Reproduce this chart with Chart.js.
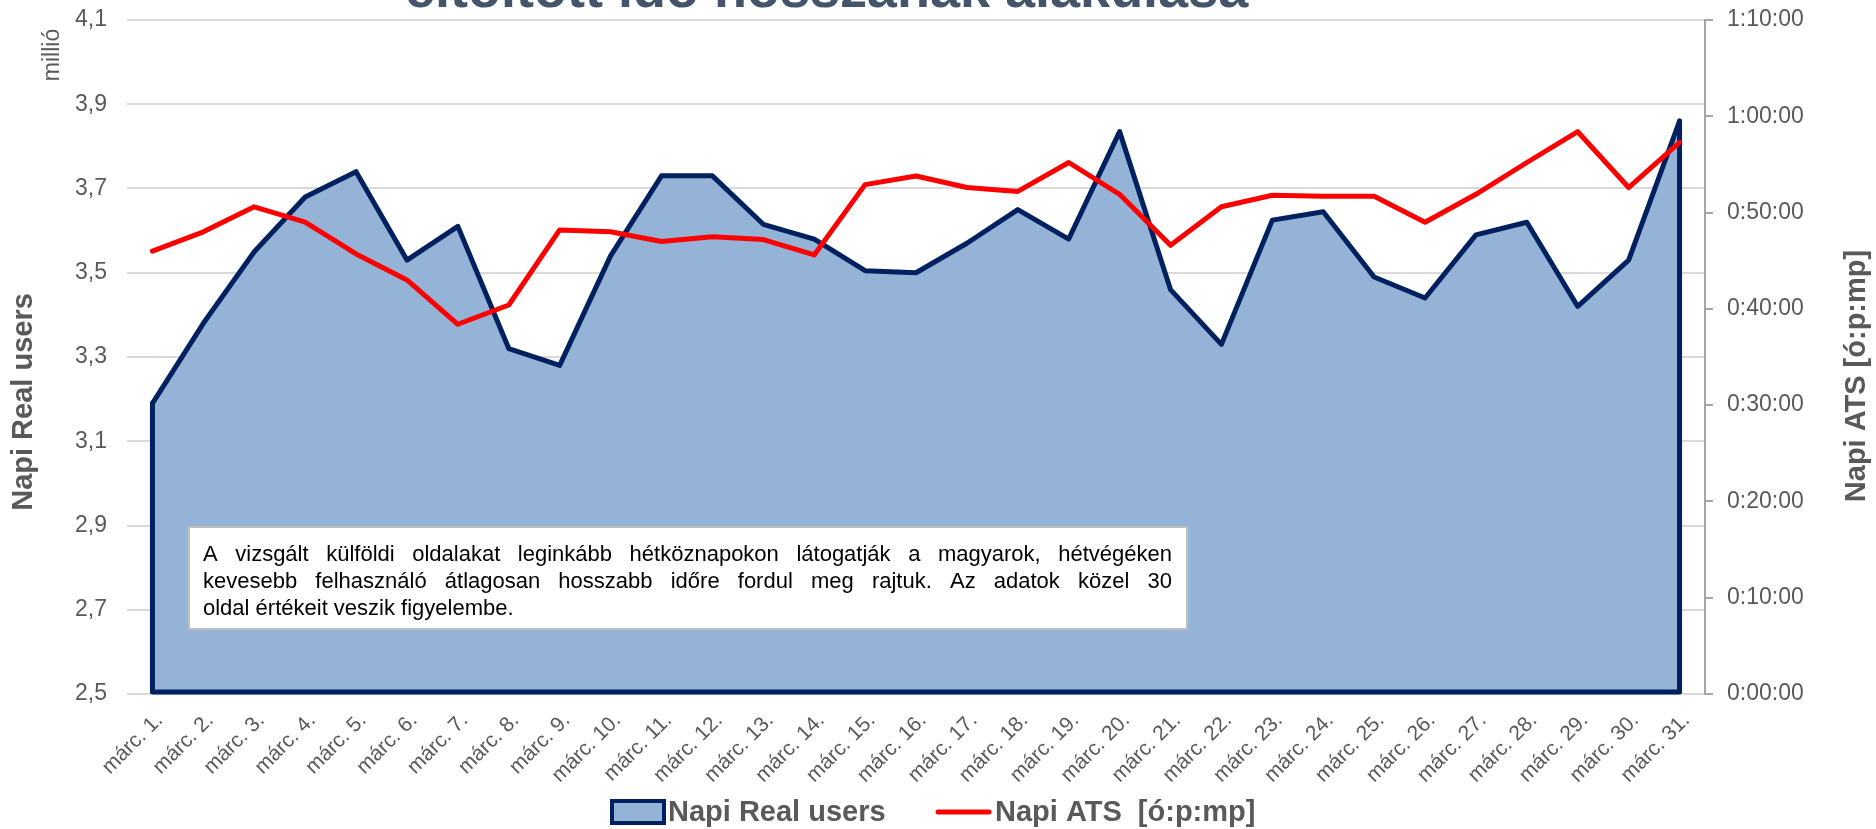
<!DOCTYPE html>
<html>
<head>
<meta charset="utf-8">
<script src="https://cdn.jsdelivr.net/npm/chart.js@4/dist/chart.umd.min.js"></script>
<style>
html,body{margin:0;padding:0;background:#fff;}
#c{display:block;}
</style>
</head>
<body>
<canvas id="c" width="1876" height="829"></canvas>
<script>
// ---- data ----
const categories = ['márc. 1.','márc. 2.','márc. 3.','márc. 4.','márc. 5.','márc. 6.','márc. 7.','márc. 8.','márc. 9.','márc. 10.',
  'márc. 11.','márc. 12.','márc. 13.','márc. 14.','márc. 15.','márc. 16.','márc. 17.','márc. 18.','márc. 19.','márc. 20.',
  'márc. 21.','márc. 22.','márc. 23.','márc. 24.','márc. 25.','márc. 26.','márc. 27.','márc. 28.','márc. 29.','márc. 30.','márc. 31.'];
// Napi Real users (millió)
const realUsers = [3.19,3.38,3.55,3.68,3.74,3.53,3.61,3.32,3.28,3.54,
  3.73,3.73,3.615,3.58,3.505,3.50,3.57,3.65,3.58,3.835,
  3.46,3.33,3.625,3.645,3.49,3.44,3.59,3.62,3.42,3.53,3.86];
// Napi ATS (másodperc)
const atsSeconds = [2760,2880,3036,2940,2742,2580,2304,2424,2892,2880,
  2820,2850,2832,2736,3174,3228,3156,3132,3312,3114,
  2796,3036,3108,3102,3102,2940,3114,3312,3504,3156,3438];
const leftTicks = {min:2.5, max:4.1, step:0.2};
const rightTicks = {min:0, max:4200, step:600};
const seriesNames = ['Napi Real users','Napi ATS  [ó:p:mp]'];
const axisTitles = {left:'Napi Real users', right:'Napi ATS [ó:p:mp]', unit:'millió'};
const titleText = 'eltöltött idő hosszának alakulása';
const noteLines = [
  'A vizsgált külföldi oldalakat leginkább hétköznapokon látogatják a magyarok, hétvégéken',
  'kevesebb felhasználó átlagosan hosszabb időre fordul meg rajtuk. Az adatok közel 30',
  'oldal értékeit veszik figyelembe.'
];

const FONT = '"Liberation Sans", Arial, sans-serif';
const GRAY = '#595959';
const NAVY = '#002060';
const FILL = '#95b3d7';
const RED = '#ff0000';

function fmtHMS(s){
  s = Math.round(s);
  const h = Math.floor(s/3600), m = Math.floor((s%3600)/60), sec = s%60;
  return h + ':' + String(m).padStart(2,'0') + ':' + String(sec).padStart(2,'0');
}

const decorPlugin = {
  id:'decor',
  afterDatasetDraw(chart, args){
    if (args.meta.yAxisID !== 'y') return;
    const pts = args.meta.data;
    const ys = chart.scales.y;
    const bottom = ys.getPixelForValue(leftTicks.min);
    const ctx = chart.ctx;
    ctx.save();
    ctx.strokeStyle = NAVY;
    ctx.lineWidth = 5;
    ctx.lineJoin = 'round';
    ctx.lineCap = 'round';
    ctx.beginPath();
    ctx.moveTo(pts[0].x, pts[0].y);
    ctx.lineTo(pts[0].x, bottom - 2);
    ctx.lineTo(pts[pts.length-1].x, bottom - 2);
    ctx.lineTo(pts[pts.length-1].x, pts[pts.length-1].y);
    ctx.stroke();
    ctx.restore();
  },
  afterDatasetsDraw(chart){
    const ctx = chart.ctx;
    // annotation box
    const bx = 189, by = 527, bw = 998, bh = 102;
    ctx.save();
    ctx.fillStyle = '#ffffff';
    ctx.fillRect(bx, by, bw, bh);
    ctx.strokeStyle = '#bfbfbf';
    ctx.lineWidth = 2;
    ctx.strokeRect(bx, by, bw, bh);
    ctx.fillStyle = '#000000';
    ctx.font = '22px ' + FONT;
    ctx.textBaseline = 'alphabetic';
    ctx.textAlign = 'left';
    const left = 203, right = 1172;
    const baselines = [561, 588, 615];
    noteLines.forEach((line, i) => {
      if (i < noteLines.length - 1) {
        const words = line.split(' ');
        const total = words.reduce((a,w)=>a+ctx.measureText(w).width,0);
        const gap = (right-left-total)/(words.length-1);
        let x = left;
        words.forEach(w => { ctx.fillText(w, x, baselines[i]); x += ctx.measureText(w).width + gap; });
      } else {
        ctx.fillText(line, left, baselines[i]);
      }
    });
    ctx.restore();
  },
  afterDraw(chart){
    const ctx = chart.ctx;
    ctx.save();
    // title (cut at top)
    ctx.fillStyle = '#44546a';
    ctx.font = 'bold 54px ' + FONT;
    ctx.textBaseline = 'alphabetic';
    ctx.textAlign = 'left';
    ctx.fillText(titleText, 405, 7);
    // axis titles
    ctx.fillStyle = GRAY;
    ctx.font = 'bold 29px ' + FONT;
    ctx.textAlign = 'center';
    ctx.textBaseline = 'middle';
    ctx.save(); ctx.translate(24, 402); ctx.rotate(-Math.PI/2); ctx.fillText(axisTitles.left, 0, 0); ctx.restore();
    ctx.save(); ctx.translate(1857, 376); ctx.rotate(-Math.PI/2); ctx.fillText(axisTitles.right, 0, 0); ctx.restore();
    ctx.font = '23px ' + FONT;
    ctx.save(); ctx.translate(53, 55); ctx.rotate(-Math.PI/2); ctx.fillText(axisTitles.unit, 0, 0); ctx.restore();
    // legend
    const ly = 812;
    ctx.fillStyle = FILL;
    ctx.fillRect(612, 801, 52, 22);
    ctx.strokeStyle = NAVY; ctx.lineWidth = 4;
    ctx.strokeRect(612, 801, 52, 22);
    ctx.fillStyle = GRAY;
    ctx.font = 'bold 29px ' + FONT;
    ctx.textAlign = 'left';
    ctx.fillText(seriesNames[0], 668, ly+1);
    ctx.strokeStyle = RED; ctx.lineWidth = 5; ctx.lineCap = 'round';
    ctx.beginPath(); ctx.moveTo(938, ly); ctx.lineTo(989, ly); ctx.stroke();
    ctx.fillText(seriesNames[1], 995, ly+1);
    ctx.restore();
  }
};

new Chart(document.getElementById('c'), {
  type:'line',
  data:{
    labels: categories,
    datasets:[
      {label:seriesNames[1], data:atsSeconds, yAxisID:'y2', borderColor:RED, borderWidth:5,
       pointRadius:0, tension:0, fill:false, order:0, borderJoinStyle:'round', borderCapStyle:'round'},
      {label:seriesNames[0], data:realUsers, yAxisID:'y', borderColor:NAVY, backgroundColor:FILL, borderWidth:5,
       pointRadius:0, tension:0, fill:'start', order:1, borderJoinStyle:'round', borderCapStyle:'round'}
    ]
  },
  options:{
    responsive:false,
    animation:false,
    devicePixelRatio:1,
    layout:{padding:{top:20,left:0,right:0,bottom:0}},
    plugins:{legend:{display:false}, tooltip:{enabled:false}, title:{display:false}},
    scales:{
      x:{
        type:'category', offset:true,
        grid:{display:false}, border:{display:false},
        ticks:{autoSkip:false, maxRotation:45, minRotation:45, color:GRAY, font:{family:FONT, size:21}, padding:6, labelOffset:7},
        afterFit(s){ s.height = 135; s.paddingLeft = 0; s.paddingRight = 0; }
      },
      y:{
        position:'left', min:leftTicks.min, max:leftTicks.max,
        grid:{color:'#d9d9d9', lineWidth:2, drawTicks:false},
        border:{display:false},
        ticks:{stepSize:leftTicks.step, color:GRAY, font:{family:FONT, size:23}, padding:20,
          callback:v=>Number(v).toFixed(1).replace('.',',')},
        afterFit(s){ s.width = 127; s.paddingTop = 0; s.paddingBottom = 0; }
      },
      y2:{
        position:'right', min:rightTicks.min, max:rightTicks.max,
        grid:{drawOnChartArea:false, color:'#a6a6a6', lineWidth:2, tickLength:8},
        border:{display:true, color:'#a6a6a6', width:2},
        ticks:{stepSize:rightTicks.step, color:GRAY, font:{family:FONT, size:23}, padding:14,
          callback:v=>fmtHMS(v)},
        afterFit(s){ s.width = 171; s.paddingTop = 0; s.paddingBottom = 0; }
      }
    }
  },
  plugins:[decorPlugin]
});
</script>
</body>
</html>
